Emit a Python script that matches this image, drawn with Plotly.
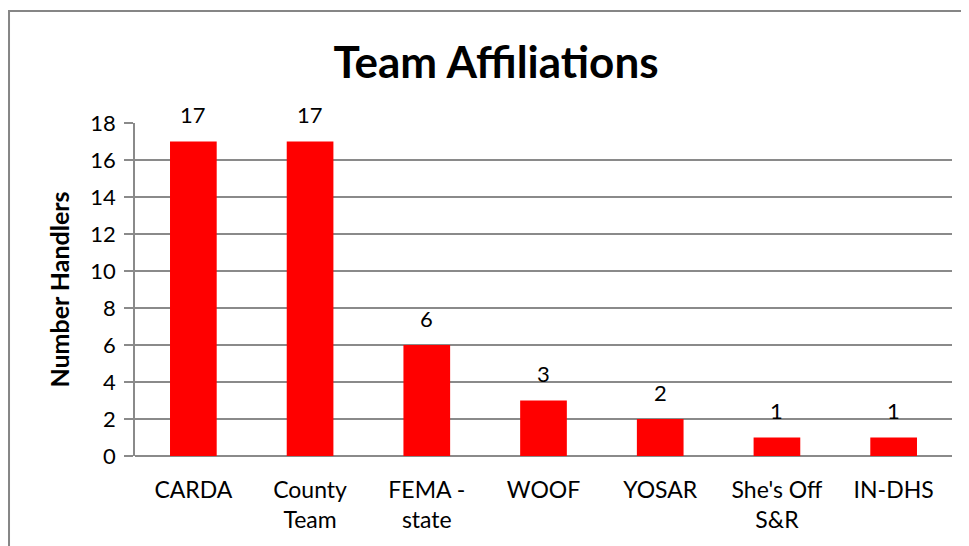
import plotly.graph_objects as go

categories = ["CARDA", "County<br>Team", "FEMA -<br>state", "WOOF", "YOSAR", "She's Off<br>S&R", "IN-DHS"]
handlers = [17, 17, 6, 3, 2, 1, 1]
y_ticks = [0, 2, 4, 6, 8, 10, 12, 14, 16, 18]

FONT = "Lato"
GRID = "#8a8a8a"

fig = go.Figure(go.Bar(
    x=categories,
    y=handlers,
    marker=dict(color="#ff0000", line=dict(width=0)),
    width=0.4,
    cliponaxis=False,
))

for c, v in zip(categories, handlers):
    fig.add_annotation(x=c, y=v, text=str(v), showarrow=False,
                       xanchor="center", yanchor="middle", yshift=27,
                       font=dict(family=FONT, size=22, color="black"))

fig.update_layout(
    width=969, height=546,
    margin=dict(l=127, r=25, t=115, b=98),
    paper_bgcolor="white", plot_bgcolor="white",
    showlegend=False,
    title=dict(text="<b>Team Affiliations</b>", x=0.5036, xanchor="center",
               y=0.9, yanchor="middle",
               font=dict(family=FONT, size=44, color="black")),
    font=dict(family=FONT, color="black"),
)

fig.update_xaxes(
    showgrid=False, ticks="", showline=False,
    ticklabelstandoff=18,
    tickfont=dict(family=FONT, size=23, color="black"),
)
fig.update_yaxes(
    range=[0, 18], tickvals=y_ticks,
    showgrid=True, gridcolor=GRID, gridwidth=1.5,
    ticks="outside", ticklen=9, tickcolor=GRID, tickwidth=1.5,
    showline=True, linecolor=GRID, linewidth=1.5,
    zeroline=True, zerolinecolor=GRID, zerolinewidth=1.5,
    ticklabelstandoff=4,
    tickfont=dict(family=FONT, size=22, color="black"),
    title=dict(text="<b>Number Handlers</b>", standoff=14,
               font=dict(family=FONT, size=25, color="black")),
)

# outer chart border
fig.add_shape(type="rect", xref="paper", yref="paper",
              x0=-0.1542, x1=1.2, y0=-0.6, y1=1.336,
              line=dict(color="#868686", width=2), fillcolor="rgba(0,0,0,0)",
              layer="below")

fig.write_html("out.html")
